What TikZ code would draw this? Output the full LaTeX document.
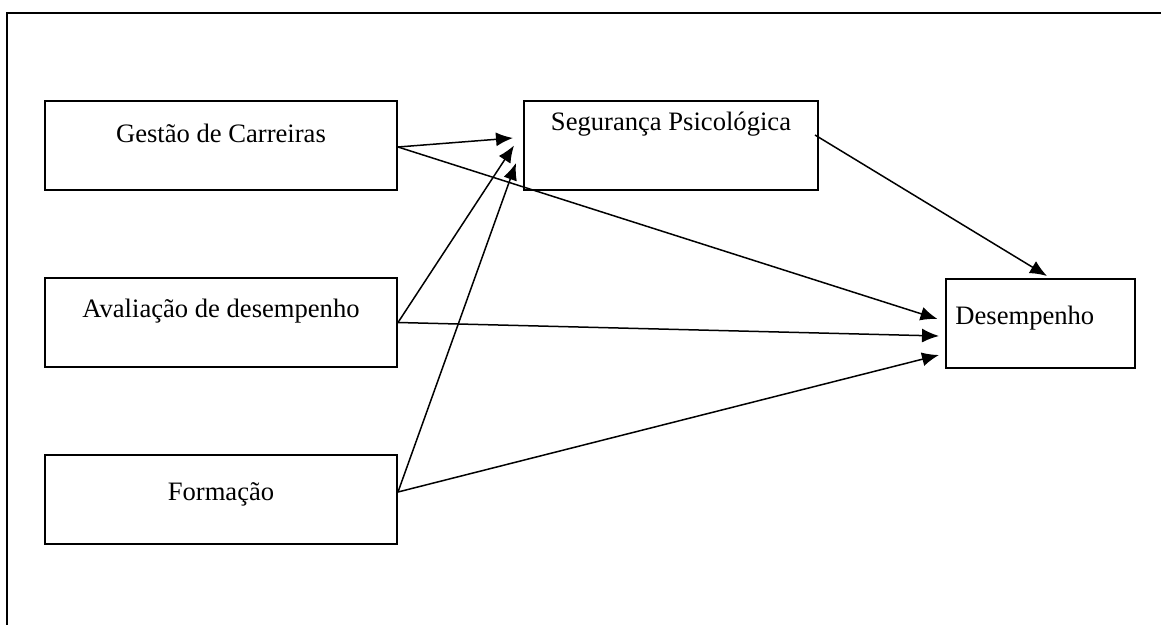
\documentclass[tikz,border=0pt]{standalone}
\usepackage{fontspec}
\setmainfont{Liberation Serif}
\usetikzlibrary{arrows.meta}

\begin{document}
\begin{tikzpicture}[x=0.5pt, y=-0.5pt,
    caixa/.style={draw, line width=1pt, minimum height=44.5pt, inner sep=0pt},
    rotulo/.style={font=\fontsize{13.3}{16}\selectfont, inner sep=0pt},
    seta/.style={line width=0.75pt, -{Latex[length=8.5pt, width=7pt]}}]
      \useasboundingbox (0,0) rectangle (1161,625);
      \draw [line width=1pt] (7,640) -- (7,13) -- (1175,13);
      \node [caixa, minimum width=176pt, label={[rotulo, yshift=6pt]center:Gestão de Carreiras}] (gestao) at (221,145.5) {};
      \node [caixa, minimum width=176pt, label={[rotulo, yshift=5.5pt]center:Avaliação de desempenho}] (avaliacao) at (221,322.5) {};
      \node [caixa, minimum width=176pt, label={[rotulo, yshift=2.5pt]center:Formação}] (formacao) at (221,499.5) {};
      \node [caixa, minimum width=147pt, label={[rotulo, yshift=10.75pt]center:Segurança Psicológica}] (seguranca) at (671,145.5) {};
      \node [caixa, minimum width=94.5pt, label={[rotulo, anchor=west, xshift=5pt, yshift=2.75pt]west:Desempenho}] (desempenho) at (1040.5,323.5) {};
      \draw [seta] ([yshift=-0.75pt]gestao.east) -- ([xshift=-5pt, yshift=3.75pt]seguranca.west);
      \draw [seta] (avaliacao.east) -- ([xshift=-4.5pt]seguranca.west);
      \draw [seta] ([yshift=3.75pt]formacao.east) -- ([xshift=-3.5pt, yshift=-8.75pt]seguranca.west);
      \draw [seta] ([yshift=-0.75pt]gestao.east) -- ([xshift=-3.75pt, yshift=2.25pt]desempenho.west);
      \draw [seta] (avaliacao.east) -- ([xshift=-3pt, yshift=-6.25pt]desempenho.west);
      \draw [seta] ([yshift=3.75pt]formacao.east) -- ([xshift=-3pt, yshift=-15.75pt]desempenho.west);
      \draw [seta] ([xshift=-2pt, yshift=5.25pt]seguranca.east) -- ([xshift=3.25pt, yshift=1pt]desempenho.north);
\end{tikzpicture}
\end{document}
